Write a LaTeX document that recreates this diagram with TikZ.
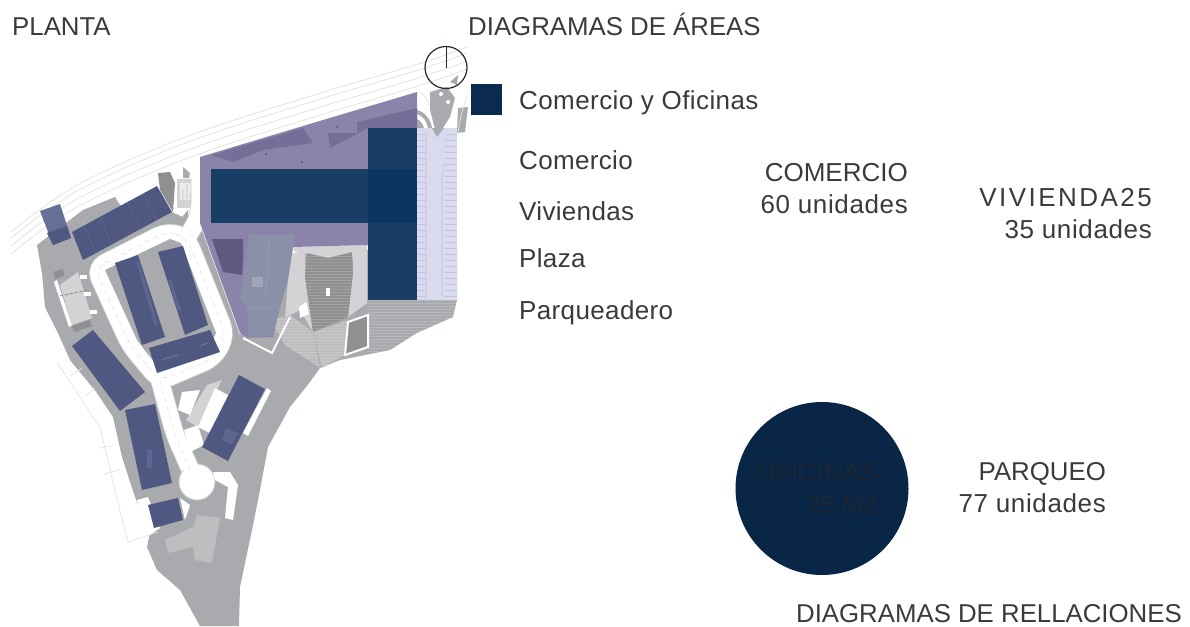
\documentclass[tikz,border=0pt]{standalone}
\usepackage{fontspec}
\setmainfont{Liberation Sans}
\definecolor{txt}{HTML}{3A3A3A}
\definecolor{txtdark}{HTML}{1C2632}
\definecolor{navy}{HTML}{0B2A4F}
\definecolor{circ}{HTML}{0A2647}
\definecolor{bluebar}{HTML}{193E65}
\definecolor{bluemix}{HTML}{0C3660}
\definecolor{purp}{HTML}{8B83AA}
\definecolor{purpd}{HTML}{766E98}
\definecolor{purpdd}{HTML}{5F5880}
\definecolor{gbld}{HTML}{8A90A8}
\definecolor{park}{HTML}{D9DAEE}
\definecolor{parkl}{HTML}{C2C3DC}
\definecolor{bldg}{HTML}{4F5880}
\definecolor{bldgl}{HTML}{667095}
\definecolor{bldgs}{HTML}{5C6690}
\definecolor{sitegr}{HTML}{A9AAAD}
\definecolor{sitedk}{HTML}{8F9092}
\definecolor{sitelt}{HTML}{D3D3D5}
\definecolor{sitemd}{HTML}{BEBEC0}
\definecolor{roadl}{HTML}{E2E3E5}
\definecolor{roade}{HTML}{CBCCCE}
\tikzset{
  lbl/.style={inner sep=0pt,text=txt,font=\fontsize{26}{30}\selectfont},
  lw/.style={lbl,anchor=base west},
  le/.style={lbl,anchor=base east},
  roadedge/.style={draw=roade,line width=19pt,line join=round,line cap=round,rounded corners=11pt},
  roadfill/.style={draw=white,line width=17.4pt,line join=round,line cap=round,rounded corners=11pt},
  roaddash/.style={draw=roadl,line width=.6pt,dash pattern=on 5pt off 4pt,rounded corners=11pt},
  thinroad/.style={draw=roadl,line width=.8pt},
  plot/.style={draw=roadl,line width=.7pt},
  bb/.style={fill=bldg},
  roofline/.style={draw=bldgs,line width=.6pt},
  stripe/.style={draw=white,opacity=.16,line width=.6pt},
}
\begin{document}
\begin{tikzpicture}[x=1pt,y=-1pt]
\useasboundingbox (0,0) rectangle (1190,626);
% site base
\fill[sitegr] (37,245) -- (83,210) -- (115,197) -- (120,205) -- (172,212) -- (200,225) -- (240,335) -- (300,250) -- (457,250)
  -- (457,300) -- (453,317) -- (417,333) -- (390,350) -- (340,360) -- (320,368) -- (310,382) -- (290,407)
  -- (268,447) -- (260,490) -- (252,530) -- (240,587) -- (239,626) -- (200,626) -- (180,590) -- (157,570)
  -- (147,547) -- (150,533) -- (135,497) -- (122,457) -- (113,417) -- (97,393) -- (70,360) -- (58,333)
  -- (45,307) -- (42,273) -- cycle;
% NE roundabout
\fill[sitegr] (430,92) -- (447,87) -- (455,98) -- (450,117) -- (437,137) -- (430,110) -- cycle;
\fill[sitegr] (458,108) -- (468,107) -- (465,132) -- (457,133) -- cycle;
\fill[sitegr] (450,82) -- (458,75) -- (457,85) -- cycle;
\fill[sitegr] (417,110) .. controls (425,112) and (431,120) .. (432,128) -- (417,128) -- cycle;
\fill[white] (417,114) .. controls (423,116) and (427,122) .. (428,128) -- (424,128) .. controls (423,123) and (420,120) .. (417,119) -- cycle;
\draw[thinroad] (420,92) .. controls (426,96) and (428,100) .. (429,106);
\draw[thinroad] (468,95) .. controls (462,110) and (460,118) .. (458,133);
\fill[white] (441,94) circle[radius=2];
\fill[white] (448,102) circle[radius=2];
% plaza near top
\fill[white] (160,168) -- (200,155) -- (205,225) -- (172,212) -- (176,190) -- cycle;
\fill[sitelt] (177,179) -- (198,179) -- (198,208) -- (177,208) -- cycle;
\fill[white!92!black] (180,183) rectangle (195,200);
\draw[sitemd,line width=.6pt] (187,184) -- (187,199) (183,190) -- (183,199) (192,186) -- (190,199);
\fill[sitegr] (183,167) -- (190,173) -- (189,178) -- (183,178) -- cycle;
\fill[sitegr] (177,223) -- (188,210) -- (189,225) -- cycle;
\fill[sitedk] (158,173) -- (170,172) -- (175,183) -- (173,212) -- (160,190) -- cycle;
% ring road
\path[roadedge] (95,268) -- (168,231) -- (187,238) -- (226,335) -- (214,358) -- (160,381) -- (130,345) -- cycle;
\path[roadedge] (160,381) -- (175,435) -- (195,480);
\path[roadedge] (187,238) -- (200,215) -- (200,172);
\path[roadfill] (95,268) -- (168,231) -- (187,238) -- (226,335) -- (214,358) -- (160,381) -- (130,345) -- cycle;
\path[roadfill] (160,381) -- (175,435) -- (195,480);
\path[roadfill] (187,238) -- (200,215) -- (200,172);
\fill[white] (190,150) -- (205,150) -- (205,178) -- (190,178) -- cycle;
\fill[white,draw=roade,line width=.8pt] (197,482) circle[radius=18];
\fill[white] (180,462) -- (194,456) -- (200,470) -- (186,476) -- cycle;
\path[roaddash] (95,268) -- (168,231) -- (187,238) -- (226,335) -- (214,358) -- (160,381) -- (130,345) -- cycle;
\path[roaddash] (160,381) -- (175,435) -- (190,470);
% coastal road lines
\foreach \d in {0,6,14,22}{
  \draw[thinroad] (11,{232+\d}) .. controls (40,{208+\d}) and (60,{195+\d}) .. (77,{185+\d})
     .. controls (110,{168+\d}) and (135,{157+\d}) .. (160,{147+\d})
     .. controls (220,{122+\d}) and (300,{100+\d}) .. (330,{90+\d})
     .. controls (370,{78+\d}) and (430,{62+\d}) .. (467,{47+\d});
}
% inner block
\fill[sitegr] (105,270) -- (170,239) -- (181,243) -- (216,333) -- (208,352) -- (160,370) -- (137,340) -- cycle;
\fill[sitelt] (60,285) -- (78,272) -- (92,318) -- (72,325) -- cycle;
\fill[white] (54,282) -- (57,280) -- (72,325) -- (69,327) -- cycle;
\draw[sitedk,line width=1pt,dash pattern=on 3pt off 2pt] (60,296) -- (88,290);
\fill[sitedk] (53,272) -- (63,269) -- (64,276) -- (55,279) -- cycle;
\fill[sitedk] (72,326) -- (90,320) -- (92,326) -- (75,332) -- cycle;
\foreach \a/\b in {80/275,84/292,90/310}{\fill[white] (\a,\b) rectangle ++(7,4);}
% white pieces south
\fill[sitelt] (207,385) -- (222,380) -- (198,427) -- (186,420) -- cycle;
\fill[white] (215,388) -- (228,395) -- (210,433) -- (198,427) -- cycle;
\fill[white] (267,388) -- (271,391) -- (248,436) -- (243,433) -- cycle;
\fill[white] (182,392) -- (200,390) -- (190,415) -- (178,410) -- cycle;
\fill[white] (184,430) -- (198,425) -- (204,445) -- (190,452) -- cycle;
\fill[white] (213,472) -- (230,472) -- (238,485) -- (233,520) -- (225,518) -- (228,487) -- (215,480) -- cycle;
\fill[white] (137,500) -- (148,497) -- (160,528) -- (147,537) -- cycle;
\fill[white] (180,498) -- (190,505) -- (185,520) -- cycle;
\fill[sitemd] (197,515) -- (220,518) -- (212,563) -- (195,560) -- (193,547) -- (168,553) -- (165,540) -- (193,527) -- cycle;
% plots outline
\draw[plot] (57,362) -- (95,420) -- (100,427) -- (118,503) -- (128,542) -- (158,532);
\draw[plot] (70,376) -- (82,368) (85,396) -- (95,388) (100,448) -- (113,446) (104,474) -- (120,470);
% central plaza
\fill[sitelt] (290,253) -- (305,253) -- (305,277) -- (313,332) -- (300,310) -- (285,318) -- (288,280) -- cycle;
\fill[sitelt] (352,252) -- (367,247) -- (367,303) -- (348,317) -- (353,273) -- cycle;
\fill[sitelt] (293,247) -- (367,245) -- (367,250) -- (328,258) -- (295,252) -- cycle;
\fill[sitedk] (307,253) -- (328,258) -- (352,252) -- (353,273) -- (348,317) -- (313,332) -- (305,277) -- cycle;
\begin{scope}
\clip (307,253) -- (328,258) -- (352,252) -- (353,273) -- (348,317) -- (313,332) -- (305,277) -- cycle;
\foreach \yy in {253,256,...,332}{\draw[stripe] (300,\yy) -- (360,\yy);}
\end{scope}
\fill[white] (326,288) rectangle (330,296);
\fill[sitemd] (313,332) -- (348,320) -- (345,355) -- (322,368) -- cycle;
\fill[sitemd] (270,320) -- (290,315) -- (313,332) -- (320,368) -- (285,345) -- cycle;
\begin{scope}
\clip (270,320) -- (290,315) -- (313,332) -- (348,320) -- (345,355) -- (322,368) -- (285,345) -- cycle;
\foreach \yy in {316,319,...,368}{\draw[stripe] (265,\yy) -- (350,\yy);}
\end{scope}
\begin{scope}
\clip (368,300) -- (457,300) -- (453,317) -- (417,333) -- (390,350) -- (368,355) -- cycle;
\foreach \yy in {300,303,...,356}{\draw[stripe] (365,\yy) -- (460,\yy);}
\end{scope}
\draw[white,line width=2pt] (243,338) -- (272,353) -- (290,317);
\fill[sitedk,draw=white,line width=2pt] (348,322) -- (368,315) -- (368,347) -- (345,355) -- cycle;
\fill[white] (299,307) -- (306,302) -- (309,314) -- (300,318) -- cycle;
% purple area
\fill[purp] (200,157) -- (323,120) -- (417,92) -- (417,128) -- (368,128) -- (368,245) -- (293,247) -- (273,337) -- (248,338) -- (240,333) -- (200,223) -- cycle;
\fill[purpd] (212,155) -- (303,128) -- (313,143) -- (263,150) -- (233,162) -- cycle;
\fill[purpd] (357,122) -- (417,108) -- (417,128) -- (368,128) -- (330,148) -- (328,133) -- (357,133) -- cycle;
\fill[purpdd] (212,239) -- (243,239) -- (243,258) -- (242,275) -- (223,272) -- cycle;
\fill[gbld] (249,235) -- (295,235) -- (288,280) -- (280,307) -- (273,335) -- (248,338) -- (247,307) -- (240,300) -- cycle;
\draw[purp!80!white,line width=.5pt] (247,307) -- (280,307) (270,236) -- (265,300);
\fill[gbld!80!white] (252,277) rectangle (263,287);
\fill[purpdd] (266,154) circle[radius=1.2] (302,162) circle[radius=1.2] (337,127) circle[radius=1.2];
% parking
\fill[park] (417,128) rectangle (457,300);
\foreach \yy in {134,140,...,296}{
  \draw[parkl,line width=.5pt] (417,\yy) -- (426,\yy) (445,\yy) -- (457,\yy);
}
\draw[parkl,line width=.6pt] (426,133) -- (426,296) (445,165) -- (442,175) -- (442,296);
\fill[sitegr] (432,128) -- (444,128) -- (437,137) -- cycle;
% blue bars
\fill[bluebar] (211,169) rectangle (417,223);
\fill[bluebar] (368,128) rectangle (417,300);
\fill[bluemix] (368,169) rectangle (417,223);
% housing blocks
\fill[bldgl] (40,211) -- (60,204) -- (71,238) -- (53,245) -- cycle;
\fill[bldg] (47,233) -- (67,226) -- (71,238) -- (53,245) -- cycle;
\fill[bb] (72,232) -- (157,186) -- (172,212) -- (83,260) -- cycle;
\draw[roofline] (84,226) -- (96,253) (100,218) -- (112,245) (127,202) -- (141,229) (143,194) -- (157,220);
\fill[bb] (115,263) -- (138,255) -- (165,337) -- (142,345) -- cycle;
\fill[bldgs] (136,262) -- (139,261) -- (158,325) -- (155,326) -- cycle;
\fill[bb] (158,252) -- (183,246) -- (208,325) -- (185,335) -- cycle;
\fill[bldgs] (168,280) -- (171,279) -- (181,310) -- (178,311) -- cycle;
\fill[bb] (149,348) -- (210,330) -- (220,352) -- (157,373) -- cycle;
\draw[bldgl,line width=1.4pt] (161,360) -- (178,355) (200,346) -- (208,343);
\fill[bb] (72,346) -- (93,330) -- (145,392) -- (120,411) -- cycle;
\fill[bb] (125,410) -- (155,404) -- (172,483) -- (142,490) -- cycle;
\fill[bldgs] (147,450) rectangle (152,468);
\fill[bb] (148,505) -- (178,498) -- (183,520) -- (154,528) -- cycle;
\fill[bb] (239,375) -- (265,389) -- (228,461) -- (202,447) -- cycle;
\fill[bldgs] (226,428) -- (238,433) -- (232,445) -- (222,440) -- cycle;
% north mark
\node[circle,draw=black!85,line width=1.2pt,minimum size=42pt,inner sep=0pt] (north) at (446,67.5) {};
\draw[navy,line width=1pt] (north.north) -- (north.center);
% legend square
\node[fill=navy,minimum size=31pt,inner sep=0pt] (legend) at (486.5,99.5) {};
% big circle
\node[circle,fill=circ,minimum size=173pt,inner sep=0pt] (oficinas) at (822,488.5) {};
% text
\node[lw,font=\fontsize{25.8}{30}\selectfont] (t1) at (12,36) {PLANTA};
\node[lw,font=\fontsize{25.8}{30}\selectfont] (t2) at (468,36) {DIAGRAMAS DE ÁREAS};
\node[lw] (t3) at (519,109) {\addfontfeature{LetterSpace=1.6}Comercio y Oficinas};
\node[lw] (t4) at (519,169) {\addfontfeature{LetterSpace=1.3}Comercio};
\node[lw] (t5) at (519,220) {\addfontfeature{LetterSpace=1.3}Viviendas};
\node[lw] (t6) at (519,267) {\addfontfeature{LetterSpace=1.3}Plaza};
\node[lw] (t7) at (519,319) {\addfontfeature{LetterSpace=1.4}Parqueadero};
\node[le] (t8) at (908,181) {COMERCIO};
\node[le] (t9) at (908,213) {\addfontfeature{LetterSpace=2.4}60 unidades};
\node[le] (t10) at (1152,206) {\addfontfeature{LetterSpace=9.5}VIVIENDA25};
\node[le] (t11) at (1152,238) {\addfontfeature{LetterSpace=2.4}35 unidades};
\node[le,text=txtdark] (t12) at (878,481) {OFICINAS};
\node[le,text=txtdark] (t13) at (878,513) {25 M2};
\node[le,font=\fontsize{25.8}{30}\selectfont] (t14) at (1106,480) {PARQUEO};
\node[le] (t15) at (1106,512) {\addfontfeature{LetterSpace=2.4}77 unidades};
\node[le,font=\fontsize{25.8}{30}\selectfont] (t16) at (1182,622) {DIAGRAMAS DE RELLACIONES};
\end{tikzpicture}
\end{document}
